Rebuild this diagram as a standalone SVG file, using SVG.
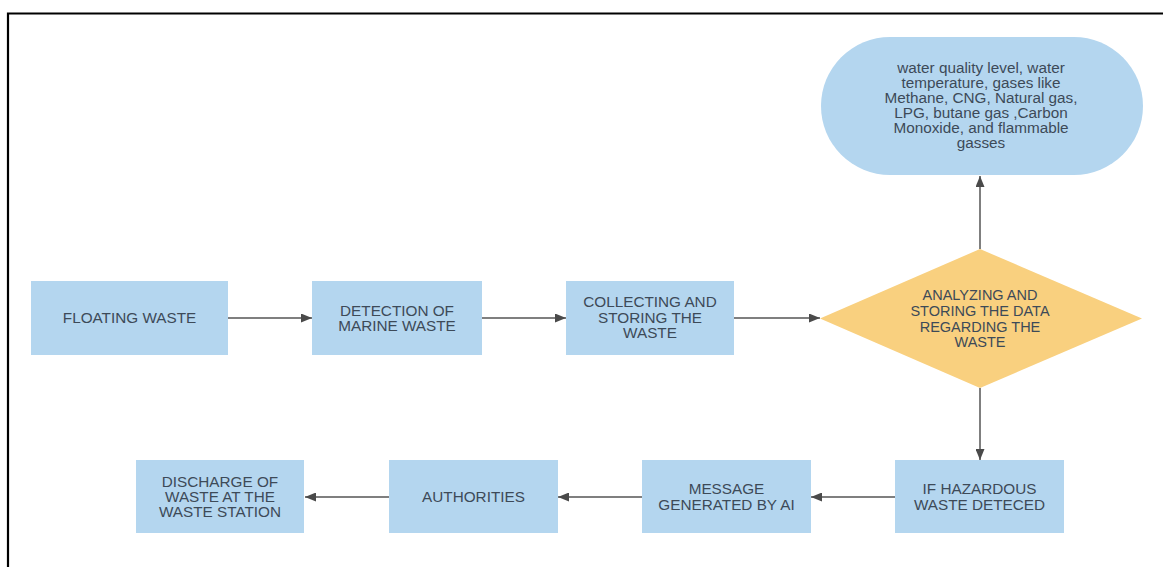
<svg xmlns="http://www.w3.org/2000/svg" width="1163" height="567" viewBox="0 0 1163 567">
  <style>
    .box { fill: #b4d6ef; }
    .dia { fill: #f9d07f; }
    .t { font-family: "Liberation Sans", Arial, sans-serif; font-size: 15.3px; fill: #3d4a58; text-anchor: middle; }
    .d { font-size: 14.5px; }
    .conn { stroke: #555; stroke-width: 1.5; fill: none; marker-end: url(#ah); }
  </style>
  <defs>
    <marker id="ah" markerUnits="userSpaceOnUse" markerWidth="11" markerHeight="9" refX="11" refY="4.5" orient="auto">
      <path d="M0,0 L11,4.5 L0,9 Z" fill="#4a4a4a"/>
    </marker>
  </defs>
  <rect x="0" y="0" width="1163" height="567" fill="#ffffff"/>
  <g id="frame">
    <path d="M8,567 L8,13.5 L1163,13.5" stroke="#000" stroke-width="2.2" fill="none"/>
  </g>

  <g id="connectors">
    <line class="conn" x1="228" y1="318" x2="312" y2="318"/>
    <line class="conn" x1="482" y1="318" x2="566" y2="318"/>
    <line class="conn" x1="734" y1="318" x2="820" y2="318"/>
    <line class="conn" x1="980" y1="249" x2="980" y2="176"/>
    <line class="conn" x1="980" y1="388" x2="980" y2="460"/>
    <line class="conn" x1="895" y1="497" x2="811" y2="497"/>
    <line class="conn" x1="642" y1="497" x2="558" y2="497"/>
    <line class="conn" x1="389" y1="497" x2="305" y2="497"/>
  </g>

  <g id="n-floating">
    <rect class="box" x="31" y="281" width="197" height="74"/>
    <text class="t" x="129.5" y="323">FLOATING WASTE</text>
  </g>
  <g id="n-detection">
    <rect class="box" x="312" y="281" width="170" height="74"/>
    <text class="t" x="397" y="316">DETECTION OF</text>
    <text class="t" x="397" y="331">MARINE WASTE</text>
  </g>
  <g id="n-collecting">
    <rect class="box" x="566" y="281" width="168" height="74"/>
    <text class="t" x="650" y="307">COLLECTING AND</text>
    <text class="t" x="650" y="322.5">STORING THE</text>
    <text class="t" x="650" y="338">WASTE</text>
  </g>
  <g id="n-analyzing">
    <polygon class="dia" points="980,249 1142,318.5 980,388 820,318.5"/>
    <text class="t d" x="980" y="300">ANALYZING AND</text>
    <text class="t d" x="980" y="316">STORING THE DATA</text>
    <text class="t d" x="980" y="331.5">REGARDING THE</text>
    <text class="t d" x="980" y="347">WASTE</text>
  </g>
  <g id="n-params">
    <rect class="box" x="821" y="37" width="322" height="138" rx="69" ry="69"/>
    <text class="t" x="981" y="72.5">water quality level, water</text>
    <text class="t" x="981" y="87.5">temperature, gases like</text>
    <text class="t" x="981" y="102.5">Methane, CNG, Natural gas,</text>
    <text class="t" x="981" y="117.5">LPG, butane gas ,Carbon</text>
    <text class="t" x="981" y="132.5">Monoxide, and flammable</text>
    <text class="t" x="981" y="147.5">gasses</text>
  </g>
  <g id="n-hazardous">
    <rect class="box" x="895" y="460" width="169" height="73"/>
    <text class="t" x="979.5" y="494">IF HAZARDOUS</text>
    <text class="t" x="979.5" y="509.5">WASTE DETECED</text>
  </g>
  <g id="n-message">
    <rect class="box" x="642" y="460" width="169" height="73"/>
    <text class="t" x="726.5" y="494">MESSAGE</text>
    <text class="t" x="726.5" y="509.5">GENERATED BY AI</text>
  </g>
  <g id="n-authorities">
    <rect class="box" x="389" y="460" width="169" height="73"/>
    <text class="t" x="473.5" y="501.5">AUTHORITIES</text>
  </g>
  <g id="n-discharge">
    <rect class="box" x="136" y="460" width="168" height="73"/>
    <text class="t" x="220" y="486.5">DISCHARGE OF</text>
    <text class="t" x="220" y="501.5">WASTE AT THE</text>
    <text class="t" x="220" y="516.5">WASTE STATION</text>
  </g>
</svg>
